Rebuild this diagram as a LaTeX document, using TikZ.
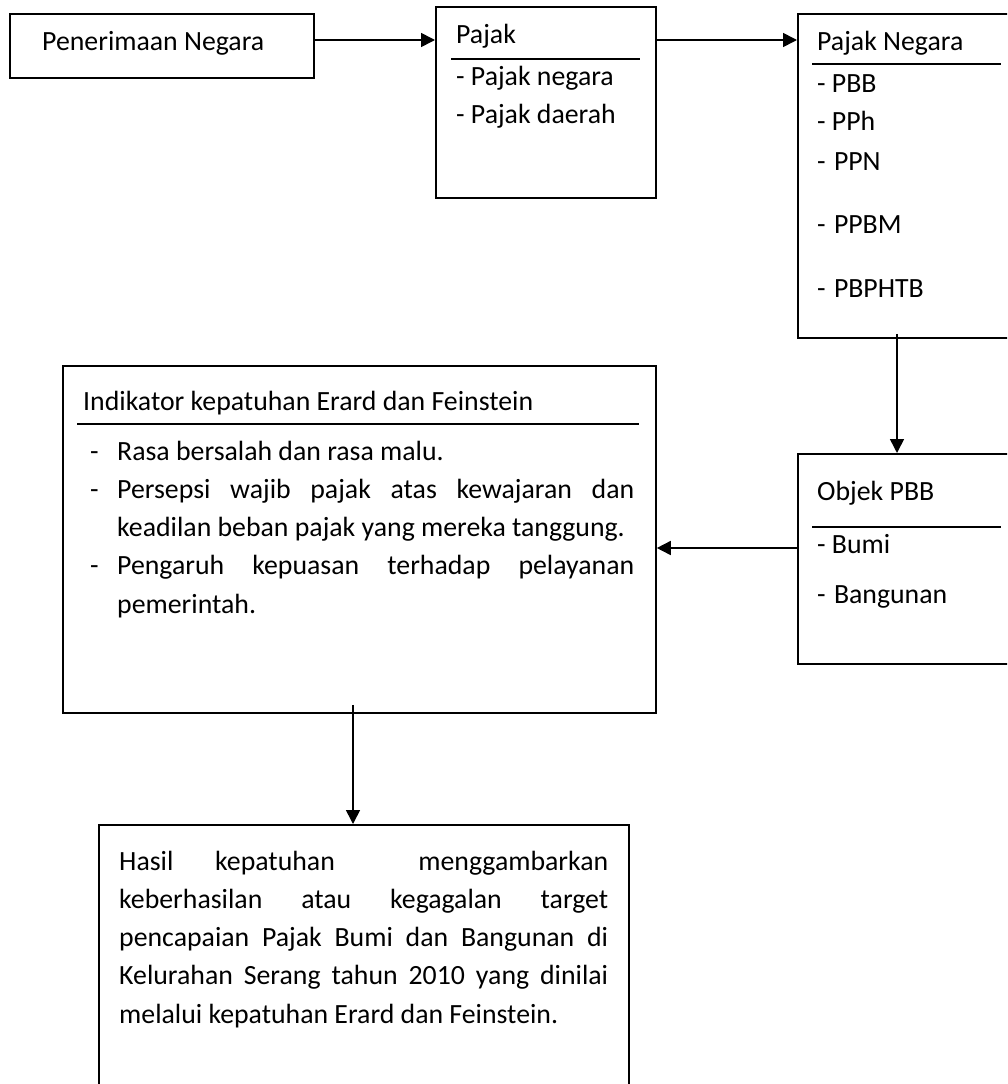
\documentclass[tikz,border=0pt]{standalone}
\usepackage{fontspec}
\setmainfont{Carlito}
\usetikzlibrary{arrows.meta}
\newcommand{\jrow}[1]{\hbox to\hsize{#1}}
\newcommand{\lrow}[1]{\hbox to\hsize{#1\hfil}}
\newcommand{\dashmark}{\hbox to27pt{-\hfil}}
\begin{document}
\begin{tikzpicture}[x=1pt,y=-1pt,
  boxnode/.style={draw, line width=1.8pt, rectangle, inner sep=0pt, anchor=north west},
  txt/.style={inner sep=0pt, anchor=base west, font=\fontsize{27.8}{38.3}\selectfont},
  rulel/.style={line width=1.8pt},
  arr/.style={line width=1.6pt, -{Triangle[length=14pt,width=14pt]}}]
\useasboundingbox (0,0) rectangle (1007,1084);
\clip (0,0) rectangle (1007,1084);

% boxes
\node[boxnode, minimum width=304pt, minimum height=64pt] (pen) at (9,13) {};
\node[boxnode, minimum width=220pt, minimum height=191pt] (pjk) at (435,6) {};
\node[boxnode, minimum width=240pt, minimum height=324pt] (pn) at (797,13) {};
\node[boxnode, minimum width=240pt, minimum height=210pt] (obj) at (797,453) {};
\node[boxnode, minimum width=593pt, minimum height=347pt] (ind) at (62,365) {};
\node[boxnode, minimum width=530pt, minimum height=300pt] (has) at (98,824) {};

% texts
\node[txt] (tpen) at (42,50) {Penerimaan Negara};

\node[txt] (tpjk) at (456,43) {Pajak};
\draw[rulel] (451,59) -- (640,59);
\node[txt] (tpjk1) at (456,85) {- Pajak negara};
\node[txt] (tpjk2) at (456,123) {- Pajak daerah};

\node[txt] (tpn) at (817,50) {Pajak Negara};
\draw[rulel] (812,64) -- (1001,64);
\node[txt] (tpn1) at (817,92) {- PBB};
\node[txt] (tpn2) at (817,130) {- PPh};
\node[txt] (tpn3) at (817,170) {-\kern2pt\ PPN};
\node[txt] (tpn4) at (817,233) {-\kern2pt\ PPBM};
\node[txt] (tpn5) at (817,297) {-\kern2pt\ PBPHTB};

\node[txt] (tobj) at (817,500) {Objek PBB};
\draw[rulel] (812,527) -- (1001,527);
\node[txt] (tobj1) at (817,553) {- Bumi};
\node[txt] (tobj2) at (817,603) {-\kern2pt\ Bangunan};

\node[txt] (tind) at (83,410) {Indikator kepatuhan Erard dan Feinstein};
\draw[rulel] (77,424) -- (639,424);
\node[txt] (tindl) at (90,460) {\vtop{\hsize=544pt
  \lrow{\dashmark Rasa bersalah dan rasa malu.}
  \jrow{\dashmark Persepsi wajib pajak atas kewajaran dan}
  \lrow{\hskip27pt keadilan beban pajak yang mereka tanggung.}
  \jrow{\dashmark Pengaruh kepuasan terhadap pelayanan}
  \lrow{\hskip27pt pemerintah.}}};

\node[txt] (thas) at (119,870) {\vtop{\hsize=489pt
  \jrow{Hasil kepatuhan\ \ menggambarkan}
  \jrow{keberhasilan atau kegagalan target}
  \jrow{pencapaian Pajak Bumi dan Bangunan di}
  \jrow{Kelurahan Serang tahun 2010 yang dinilai}
  \lrow{melalui kepatuhan Erard dan Feinstein.}}};

% connectors
\coordinate (ya) at (0,40);
\draw[arr] (pen.east |- ya) -- (pjk.west |- ya);
\draw[arr] (pjk.east |- ya) -- (pn.west |- ya);
\coordinate (xa) at (897,0);
\draw[arr, shorten <=-5pt] (pn.south -| xa) -- (obj.north -| xa);
\coordinate (yb) at (0,548);
\draw[arr] (obj.west |- yb) -- (ind.east |- yb);
\coordinate (xb) at (353,0);
\draw[arr, shorten <=-9pt] (ind.south -| xb) -- (has.north -| xb);
\end{tikzpicture}
\end{document}
